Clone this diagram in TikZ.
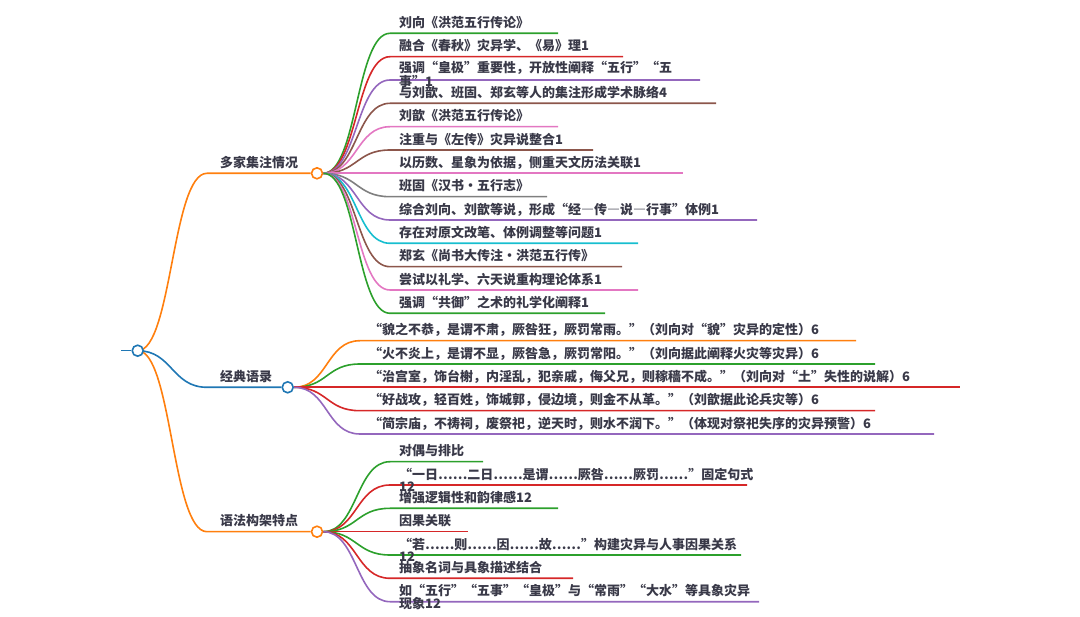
\documentclass[tikz,border=0pt]{standalone}
\usepackage{fontspec}
\setmainfont{Noto Sans CJK SC}
\newfontfamily\fwq{Noto Sans CJK SC}[RawFeature=+fwid]
\newcommand{\qo}{{\fwq “}}
\newcommand{\qc}{{\fwq ”}}
\newcommand{\qd}{{\fwq —}}
\definecolor{cgreen}{HTML}{2CA02C}
\definecolor{cred}{HTML}{D62728}
\definecolor{cpurple}{HTML}{9467BD}
\definecolor{cbrown}{HTML}{8C564B}
\definecolor{cpink}{HTML}{E377C2}
\definecolor{cgray}{HTML}{7F7F7F}
\definecolor{ccyan}{HTML}{17BECF}
\definecolor{corange}{HTML}{FF7F0E}
\definecolor{cblue}{HTML}{1F77B4}
\definecolor{txtc}{HTML}{393948}
\pgfdeclarelayer{bg}
\pgfsetlayers{bg,main}
\newcommand{\mmsx}{390}
\newcommand{\mmleaf}[7][0]{%
  \coordinate (#2s) at (\mmsx,#4);
  \coordinate (#2e) at (#5,#4);
  \node[txt] (#2) at (\mmsx+9,#4-5.8+#1) {#7};
  \begin{pgfonlayer}{bg}
  \draw[conn,#6] (#3.east) .. controls +(34,0) and +(-34,0) .. (#2s) -- (#2e);
  \end{pgfonlayer}
}
\begin{document}
\begin{tikzpicture}[x=1pt,y=-1pt,
  txt/.style={font=\fontsize{13}{12.5}\selectfont\bfseries, text=txtc, inner sep=0pt, anchor=base west, align=left},
  conn/.style={line width=1.6pt},
  hub/.style={circle, draw, line width=1.6pt, fill=white, minimum size=11pt, inner sep=0pt}]
\useasboundingbox (0,0) rectangle (1080,617);

% root
\node[hub, draw=cblue] (root) at (137.7,350.7) {};
\coordinate (rootin) at (121,350.7);
\draw[conn,cblue] (rootin) -- (root.west);

% branch hubs
\node[hub, draw=corange] (B1) at (317,173.3) {};
\node[hub, draw=cblue] (B2) at (287.7,387.3) {};
\node[hub, draw=corange] (B3) at (317,531.7) {};

\coordinate (B1s) at (207,173.3);
\coordinate (B2s) at (207,387.3);
\coordinate (B3s) at (207,531.7);
\begin{pgfonlayer}{bg}
\draw[conn,corange] (root.center) .. controls (172,350.7) and (172,173.3) .. (B1s) -- (B1.west);
\draw[conn,cblue] (root.center) .. controls (172,350.7) and (172,387.3) .. (B2s) -- (B2.west);
\draw[conn,corange] (root.center) .. controls (172,350.7) and (172,531.7) .. (B3s) -- (B3.west);
\end{pgfonlayer}

\node[txt] (L1) at (220,173.3-5.8) {多家集注情况};
\node[txt] (L2) at (220,387.3-5.8) {经典语录};
\node[txt] (L3) at (220,531.7-5.8) {语法构架特点};

% branch 1 leaves
\mmleaf{a1}{B1}{33.3}{558}{cgreen}{刘向《洪范五行传论》}
\mmleaf{a2}{B1}{56.7}{623}{cred}{融合《春秋》灾异学、《易》理1}
\mmleaf[12.5]{a3}{B1}{80}{700}{cpurple}{强调\qo 皇极\qc 重要性，开放性阐释\qo 五行\qc\qo 五\\事\qc 1}
\mmleaf{a4}{B1}{103.3}{716}{cbrown}{与刘歆、班固、郑玄等人的集注形成学术脉络4}
\mmleaf{a5}{B1}{126.7}{558}{cpink}{刘歆《洪范五行传论》}
\mmleaf{a6}{B1}{150}{593}{cbrown}{注重与《左传》灾异说整合1}
\mmleaf{a7}{B1}{173.3}{683}{cpink}{以历数、星象为依据，侧重天文历法关联1}
\mmleaf{a8}{B1}{196.7}{547}{cgray}{班固《汉书·五行志》}
\mmleaf{a9}{B1}{220}{757}{cpurple}{综合刘向、刘歆等说，形成\qo 经\qd 传\qd 说\qd 行事\qc 体例1}
\mmleaf{a10}{B1}{243.3}{638}{ccyan}{存在对原文改笔、体例调整等问题1}
\mmleaf{a11}{B1}{266.7}{622}{cbrown}{郑玄《尚书大传注·洪范五行传》}
\mmleaf{a12}{B1}{290}{638}{cpink}{尝试以礼学、六天说重构理论体系1}
\mmleaf{a13}{B1}{313.3}{605}{cgreen}{强调\qo 共御\qc 之术的礼学化阐释1}

% branch 2 leaves
\renewcommand{\mmsx}{360}
\mmleaf{b1}{B2}{340.7}{856}{corange}{\qo 貌之不恭，是谓不肃，厥咎狂，厥罚常雨。\qc（刘向对\qo 貌\qc 灾异的定性）6}
\mmleaf{b2}{B2}{364}{875}{cgreen}{\qo 火不炎上，是谓不显，厥咎急，厥罚常阳。\qc（刘向据此阐释火灾等灾异）6}
\mmleaf{b3}{B2}{387.3}{960}{cred}{\qo 治宫室，饰台榭，内淫乱，犯亲戚，侮父兄，则稼穑不成。\qc（刘向对\qo 土\qc 失性的说解）6}
\mmleaf{b4}{B2}{410.7}{875}{cred}{\qo 好战攻，轻百姓，饰城郭，侵边境，则金不从革。\qc（刘歆据此论兵灾等）6}
\mmleaf{b5}{B2}{434}{934}{cpurple}{\qo 简宗庙，不祷祠，废祭祀，逆天时，则水不润下。\qc（体现对祭祀失序的灾异预警）6}

% branch 3 leaves
\renewcommand{\mmsx}{390}
\mmleaf{c1}{B3}{461.7}{483}{cgreen}{对偶与排比}
\mmleaf[12.5]{c2}{B3}{485}{747}{cred}{\qo 一日……二日……是谓……厥咎……厥罚……\qc 固定句式\\12}
\mmleaf{c3}{B3}{508.3}{558}{cgreen}{增强逻辑性和韵律感12}
\mmleaf{c4}{B3}{531.7}{468}{cred}{因果关联}
\mmleaf[12.5]{c5}{B3}{555}{741}{cgreen}{\qo 若……则……因……故……\qc 构建灾异与人事因果关系\\12}
\mmleaf{c6}{B3}{578.3}{573}{cred}{抽象名词与具象描述结合}
\mmleaf[12.5]{c7}{B3}{601.7}{759}{cpurple}{如\qo 五行\qc\qo 五事\qc\qo 皇极\qc 与\qo 常雨\qc\qo 大水\qc 等具象灾异\\现象12}
\end{tikzpicture}
\end{document}
